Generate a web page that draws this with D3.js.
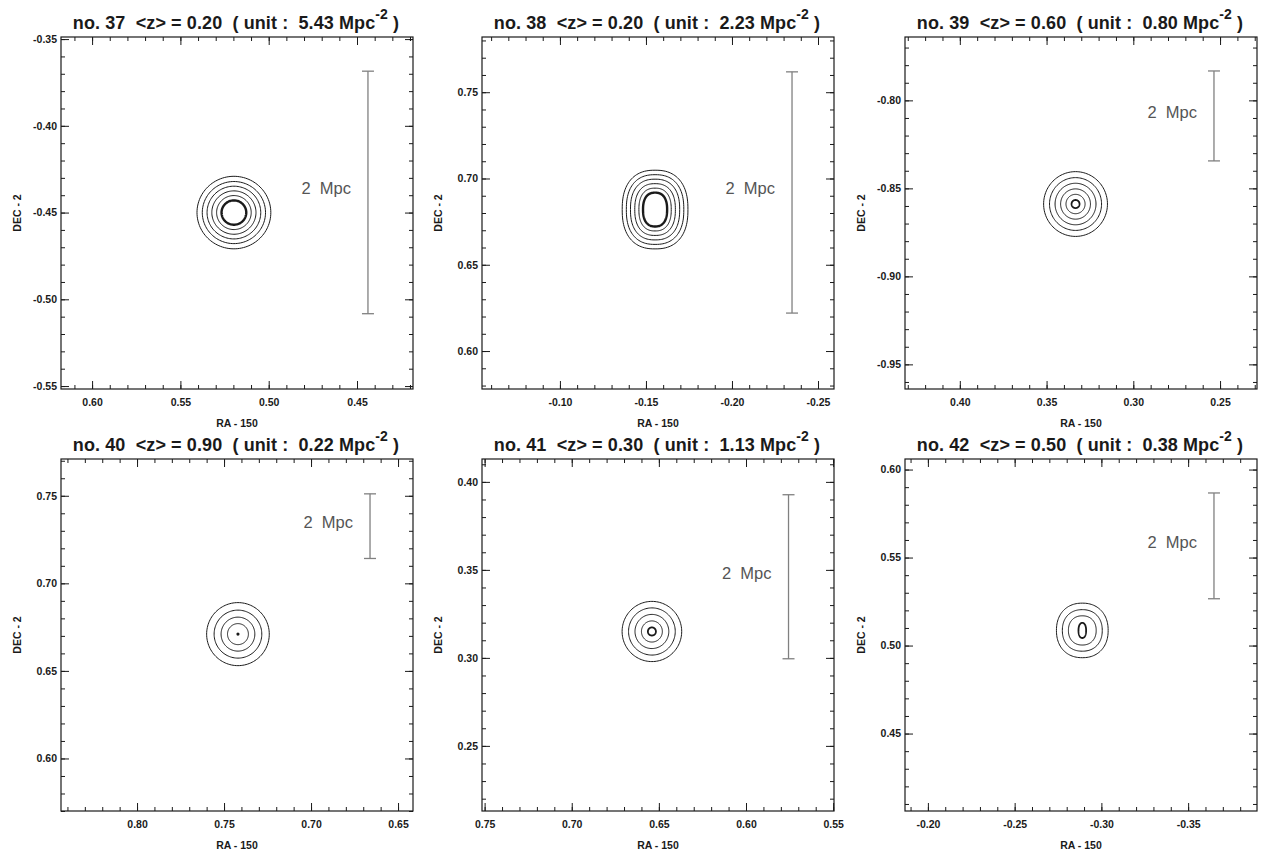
<!DOCTYPE html>
<html><head><meta charset="utf-8">
<script src="https://cdn.jsdelivr.net/npm/d3@7"></script>
<style>
body{margin:0;background:#fff}
svg{display:block}
text{font-family:"Liberation Sans",Arial,sans-serif}
</style>
</head><body>
<svg id="c" width="1264" height="859"></svg>
<script>
// ---------------- data ----------------
const panelIds    = [37, 38, 39, 40, 41, 42];
const meanZ       = [0.20, 0.20, 0.60, 0.90, 0.30, 0.50];
const unitDensity = [5.43, 2.23, 0.80, 0.22, 1.13, 0.38];

// RA-150 domain (left -> right, RA decreasing) and DEC-2 domain (bottom -> top)
const raDomains  = [[0.6176, 0.4183], [-0.0547, -0.2593], [0.4316, 0.2287],
                    [0.8437, 0.6414], [0.7515, 0.5495], [-0.1868, -0.3897]];
const decDomains = [[-0.5517, -0.3488], [0.578, 0.782], [-0.964, -0.764],
                    [0.570, 0.771], [0.213, 0.413], [0.406, 0.606]];

const raTicks  = [[0.60, 0.55, 0.50, 0.45], [-0.10, -0.15, -0.20, -0.25], [0.40, 0.35, 0.30, 0.25],
                  [0.80, 0.75, 0.70, 0.65], [0.75, 0.70, 0.65, 0.60, 0.55], [-0.20, -0.25, -0.30, -0.35]];
const decTicks = [[-0.55, -0.50, -0.45, -0.40, -0.35], [0.60, 0.65, 0.70, 0.75], [-0.95, -0.90, -0.85, -0.80],
                  [0.60, 0.65, 0.70, 0.75], [0.25, 0.30, 0.35, 0.40], [0.45, 0.50, 0.55, 0.60]];

// contour peak positions
const peakRA  = [0.5197, -0.1553, 0.3333, 0.742, 0.654, -0.289];
const peakDEC = [-0.45, 0.682, -0.8589, 0.671, 0.315, 0.5086];

// contour levels: semi-axes (deg), innermost first
const contourRx = [
  [0.0070, 0.0098, 0.0125, 0.0152, 0.0179, 0.0209],
  [0.0070, 0.0094, 0.0118, 0.0143, 0.0167, 0.0191],
  [0.0023, 0.0055, 0.0086, 0.0118, 0.0150, 0.0184],
  [0.0008, 0.0060, 0.0097, 0.0137, 0.0180],
  [0.0023, 0.0060, 0.0097, 0.0134, 0.0171],
  [0.0022, 0.0080, 0.0115, 0.0149]
];
const contourRy = [
  [0.0070, 0.0098, 0.0125, 0.0152, 0.0179, 0.0209],
  [0.0098, 0.0124, 0.0150, 0.0176, 0.0202, 0.0228],
  [0.0023, 0.0055, 0.0086, 0.0118, 0.0150, 0.0184],
  [0.0008, 0.0060, 0.0097, 0.0137, 0.0180],
  [0.0023, 0.0060, 0.0097, 0.0134, 0.0171],
  [0.0043, 0.0083, 0.0118, 0.0155]
];
const contourExponent = [2, 2.4, 2, 2, 2, 2.2];

// 2 Mpc scale bar
const barRA     = [0.4438, -0.2349, 0.2535, 0.6661, 0.5756, -0.3649];
const barTopDEC = [-0.3685, 0.7618, -0.7833, 0.7511, 0.3927, 0.5867];
const barLenDeg = [0.1398, 0.1398, 0.0511, 0.0369, 0.0932, 0.0601];
const barLabel  = "2  Mpc";

// ---------------- layout ----------------
const colLeft = [61, 482, 905];
const rowTop  = [37, 459];
const W = 352, H = 352;
const ink = "#1a1a1a";

const svg = d3.select("#c");
const fmt = v => d3.format(".2f")(v).replace("\u2212", "-");

panelIds.forEach((id, i) => {
  const L = colLeft[i % 3], T = rowTop[Math.floor(i / 3)];
  const x = d3.scaleLinear().domain(raDomains[i]).range([L, L + W]);
  const y = d3.scaleLinear().domain(decDomains[i]).range([T + H, T]);
  const g = svg.append("g");

  const minorX = x.ticks(20), minorY = y.ticks(20);
  const strip = sel => { sel.select(".domain").remove(); sel.selectAll("line").attr("stroke", ink); };
  const lab = s => s.selectAll("text").attr("font-size", 10.5).attr("font-weight", "bold").attr("fill", ink)
                    .style("font-family", "'Liberation Sans',Arial,sans-serif");

  // bottom
  g.append("g").attr("transform", `translate(0,${T + H})`)
    .call(d3.axisBottom(x).tickValues(raTicks[i]).tickSize(-8).tickPadding(10).tickFormat(fmt))
    .call(strip).call(lab);
  g.append("g").attr("transform", `translate(0,${T + H})`)
    .call(d3.axisBottom(x).tickValues(minorX).tickSize(-4).tickFormat("")).call(strip);
  // top
  g.append("g").attr("transform", `translate(0,${T})`)
    .call(d3.axisTop(x).tickValues(raTicks[i]).tickSize(-8).tickFormat("")).call(strip);
  g.append("g").attr("transform", `translate(0,${T})`)
    .call(d3.axisTop(x).tickValues(minorX).tickSize(-4).tickFormat("")).call(strip);
  // left
  g.append("g").attr("transform", `translate(${L},0)`)
    .call(d3.axisLeft(y).tickValues(decTicks[i]).tickSize(-8).tickPadding(4).tickFormat(fmt))
    .call(strip).call(lab);
  g.append("g").attr("transform", `translate(${L},0)`)
    .call(d3.axisLeft(y).tickValues(minorY).tickSize(-4).tickFormat("")).call(strip);
  // right
  g.append("g").attr("transform", `translate(${L + W},0)`)
    .call(d3.axisRight(y).tickValues(decTicks[i]).tickSize(-8).tickFormat("")).call(strip);
  g.append("g").attr("transform", `translate(${L + W},0)`)
    .call(d3.axisRight(y).tickValues(minorY).tickSize(-4).tickFormat("")).call(strip);

  // frame
  g.append("rect").attr("x", L).attr("y", T).attr("width", W).attr("height", H)
    .attr("fill", "none").attr("stroke", ink).attr("stroke-width", 1.2);

  // axis titles
  g.append("text").attr("x", L + W / 2).attr("y", T + H + 38)
    .attr("text-anchor", "middle").attr("font-size", 10.5).attr("font-weight", "bold").attr("fill", ink)
    .text("RA - 150");
  g.append("text").attr("transform", `translate(${L - 40},${T + H / 2}) rotate(-90)`)
    .attr("text-anchor", "middle").attr("font-size", 10.5).attr("font-weight", "bold").attr("fill", ink)
    .text("DEC - 2");

  // title
  const t = g.append("text").attr("x", L + W / 2 - 1).attr("y", T - 8)
    .attr("text-anchor", "middle").attr("font-size", 18).attr("font-weight", "bold").attr("fill", ink)
    .attr("letter-spacing", 0.1)
    .style("white-space", "pre");
  t.append("tspan").text(`no. ${id}  <z> = ${meanZ[i].toFixed(2)}  ( unit :  ${unitDensity[i].toFixed(2)} Mpc`);
  t.append("tspan").attr("font-size", 14).attr("dy", -10).text("-2");
  t.append("tspan").attr("dy", 10).text(" )");

  // contours
  const cx = peakRA[i], cy = peakDEC[i], p = contourExponent[i];
  const angles = d3.range(0, 2 * Math.PI, Math.PI / 60);
  const line = d3.line().x(d => x(d[0])).y(d => y(d[1])).curve(d3.curveLinearClosed);
  contourRx[i].forEach((rx, k) => {
    const ry = contourRy[i][k];
    const pts = angles.map(a => {
      const c = Math.cos(a), s = Math.sin(a);
      return [cx + rx * Math.sign(c) * Math.pow(Math.abs(c), 2 / p),
              cy + ry * Math.sign(s) * Math.pow(Math.abs(s), 2 / p)];
    });
    const inner = k === 0;
    if (i === 3 && inner) {
      g.append("circle").attr("cx", x(cx)).attr("cy", y(cy)).attr("r", 1.6).attr("fill", ink);
    } else {
      g.append("path").attr("d", line(pts)).attr("fill", "none").attr("stroke", ink)
        .attr("stroke-width", inner ? (i < 2 ? 2.4 : 1.8) : 1);
    }
  });

  // scale bar
  const bx = x(barRA[i]), by0 = y(barTopDEC[i]), by1 = y(barTopDEC[i] - barLenDeg[i]);
  const bar = g.append("g").attr("stroke", "#808080").attr("stroke-width", 1.3);
  bar.append("line").attr("x1", bx).attr("x2", bx).attr("y1", by0).attr("y2", by1);
  bar.append("line").attr("x1", bx - 6).attr("x2", bx + 6).attr("y1", by0).attr("y2", by0);
  bar.append("line").attr("x1", bx - 6).attr("x2", bx + 6).attr("y1", by1).attr("y2", by1);
  g.append("text").attr("x", bx - 17).attr("y", (by0 + by1) / 2 + 2)
    .attr("text-anchor", "end").attr("font-size", 16.5).attr("fill", "#555")
    .style("white-space", "pre").text(barLabel);
});
</script>
</body></html>
